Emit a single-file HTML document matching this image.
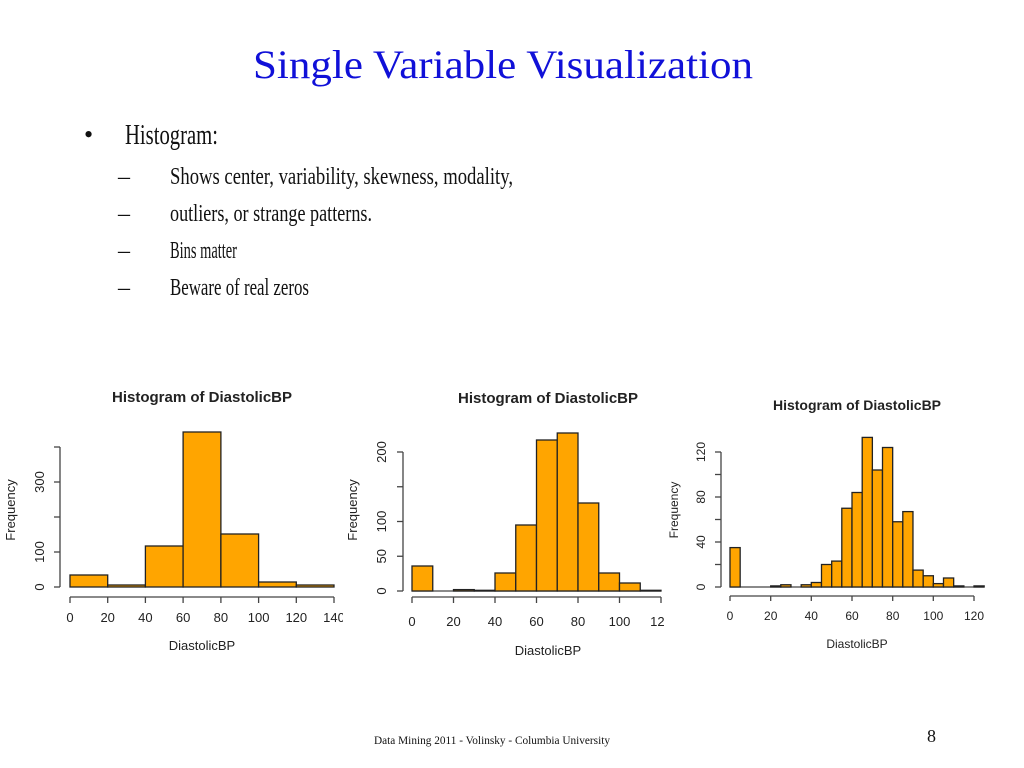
<!DOCTYPE html>
<html><head><meta charset="utf-8"><style>
html,body{margin:0;padding:0;background:#fff}
svg{display:block}
.t{font-family:"Liberation Sans",Arial,sans-serif;fill:#222}
.s{font-family:"Liberation Serif","Times New Roman",serif}
rect.b{fill:#FFA500;stroke:#222;stroke-width:1.3}
line{stroke:#444;stroke-width:1.3}
</style></head><body>
<svg width="1024" height="768" viewBox="0 0 1024 768" xmlns="http://www.w3.org/2000/svg">
<defs>
<clipPath id="c1"><rect x="0" y="380" width="343" height="300"/></clipPath>
<clipPath id="c2"><rect x="345" y="380" width="320" height="300"/></clipPath>
</defs>
<text class="s" x="253" y="78" font-size="40" fill="#1010d8" textLength="500" lengthAdjust="spacingAndGlyphs">Single Variable Visualization</text>
<text class="s" x="84" y="143" font-size="26" fill="#111">•</text>
<text class="s" x="125" y="144" font-size="28" fill="#111" textLength="93" lengthAdjust="spacingAndGlyphs">Histogram:</text>
<g class="s" font-size="24" fill="#111">
<text x="118" y="184">–</text><text x="170" y="184" textLength="343" lengthAdjust="spacingAndGlyphs">Shows center, variability, skewness, modality,</text>
<text x="118" y="221">–</text><text x="170" y="221" textLength="202" lengthAdjust="spacingAndGlyphs">outliers, or strange patterns.</text>
<text x="118" y="258">–</text><text x="170" y="258" textLength="67" lengthAdjust="spacingAndGlyphs">Bins matter</text>
<text x="118" y="295">–</text><text x="170" y="295" textLength="139" lengthAdjust="spacingAndGlyphs">Beware of real zeros</text>
</g>
<text class="s" x="374" y="744" font-size="12" fill="#111" textLength="236" lengthAdjust="spacingAndGlyphs">Data Mining 2011  - Volinsky - Columbia University</text>
<text class="s" x="927" y="742" font-size="18" fill="#111">8</text>

<!-- Chart 1 -->
<g clip-path="url(#c1)">
<text class="t" x="202" y="402" font-size="15" font-weight="bold" text-anchor="middle">Histogram of DiastolicBP</text>
<rect class="b" x="70" y="575" width="37.7" height="12"/>
<rect class="b" x="107.7" y="585" width="37.7" height="2"/>
<rect class="b" x="145.4" y="546" width="37.7" height="41"/>
<rect class="b" x="183.1" y="432" width="37.8" height="155"/>
<rect class="b" x="220.9" y="534" width="37.7" height="53"/>
<rect class="b" x="258.6" y="582" width="37.7" height="5"/>
<rect class="b" x="296.3" y="585" width="37.7" height="2"/>
<line x1="60" y1="447" x2="60" y2="587"/>
<line x1="54" y1="587" x2="60" y2="587"/><line x1="54" y1="552" x2="60" y2="552"/><line x1="54" y1="517" x2="60" y2="517"/><line x1="54" y1="482" x2="60" y2="482"/><line x1="54" y1="447" x2="60" y2="447"/>
<g class="t" font-size="13" text-anchor="middle">
<text transform="translate(44,587) rotate(-90)">0</text>
<text transform="translate(44,552) rotate(-90)">100</text>
<text transform="translate(44,482) rotate(-90)">300</text>
<text transform="translate(15,510) rotate(-90)">Frequency</text>
</g>
<line x1="70" y1="597" x2="334" y2="597"/>
<g>
<line x1="70" y1="597" x2="70" y2="603"/><line x1="107.7" y1="597" x2="107.7" y2="603"/><line x1="145.4" y1="597" x2="145.4" y2="603"/><line x1="183.1" y1="597" x2="183.1" y2="603"/><line x1="220.9" y1="597" x2="220.9" y2="603"/><line x1="258.6" y1="597" x2="258.6" y2="603"/><line x1="296.3" y1="597" x2="296.3" y2="603"/><line x1="334" y1="597" x2="334" y2="603"/>
</g>
<g class="t" font-size="13" text-anchor="middle">
<text x="70" y="622">0</text><text x="107.7" y="622">20</text><text x="145.4" y="622">40</text><text x="183.1" y="622">60</text><text x="220.9" y="622">80</text><text x="258.6" y="622">100</text><text x="296.3" y="622">120</text><text x="334" y="622">140</text>
<text x="202" y="650">DiastolicBP</text>
</g>
</g>

<!-- Chart 2 -->
<g clip-path="url(#c2)">
<text class="t" x="548" y="403" font-size="15" font-weight="bold" text-anchor="middle">Histogram of DiastolicBP</text>
<line x1="412" y1="591" x2="661" y2="591"/>
<rect class="b" x="412" y="566" width="20.75" height="25"/>
<rect class="b" x="453.5" y="589.6" width="20.75" height="1.4"/>
<rect class="b" x="474.25" y="590.3" width="20.75" height="0.7"/>
<rect class="b" x="495" y="573" width="20.75" height="18"/>
<rect class="b" x="515.75" y="525" width="20.75" height="66"/>
<rect class="b" x="536.5" y="440" width="20.75" height="151"/>
<rect class="b" x="557.25" y="433" width="20.75" height="158"/>
<rect class="b" x="578" y="503" width="20.75" height="88"/>
<rect class="b" x="598.75" y="573" width="20.75" height="18"/>
<rect class="b" x="619.5" y="583" width="20.75" height="8"/>
<rect class="b" x="640.25" y="590.3" width="20.75" height="0.7"/>
<line x1="403" y1="452" x2="403" y2="591"/>
<line x1="397" y1="591" x2="403" y2="591"/><line x1="397" y1="556.25" x2="403" y2="556.25"/><line x1="397" y1="521.5" x2="403" y2="521.5"/><line x1="397" y1="486.75" x2="403" y2="486.75"/><line x1="397" y1="452" x2="403" y2="452"/>
<g class="t" font-size="13" text-anchor="middle">
<text transform="translate(386,591) rotate(-90)">0</text>
<text transform="translate(386,556.25) rotate(-90)">50</text>
<text transform="translate(386,521.5) rotate(-90)">100</text>
<text transform="translate(386,452) rotate(-90)">200</text>
<text transform="translate(357,510) rotate(-90)">Frequency</text>
</g>
<line x1="412" y1="597" x2="661" y2="597"/>
<line x1="412" y1="597" x2="412" y2="603"/><line x1="453.5" y1="597" x2="453.5" y2="603"/><line x1="495" y1="597" x2="495" y2="603"/><line x1="536.5" y1="597" x2="536.5" y2="603"/><line x1="578" y1="597" x2="578" y2="603"/><line x1="619.5" y1="597" x2="619.5" y2="603"/><line x1="661" y1="597" x2="661" y2="603"/>
<g class="t" font-size="13" text-anchor="middle">
<text x="412" y="626">0</text><text x="453.5" y="626">20</text><text x="495" y="626">40</text><text x="536.5" y="626">60</text><text x="578" y="626">80</text><text x="619.5" y="626">100</text><text x="661" y="626">120</text>
<text x="548" y="655">DiastolicBP</text>
</g>
</g>

<!-- Chart 3 -->
<text class="t" x="857" y="410" font-size="14" font-weight="bold" text-anchor="middle">Histogram of DiastolicBP</text>
<line x1="730" y1="587" x2="984" y2="587"/>
<rect class="b" x="730" y="547.6" width="10.17" height="39.4"/>
<rect class="b" x="770.7" y="585.9" width="10.17" height="1.1"/>
<rect class="b" x="780.8" y="584.75" width="10.17" height="2.25"/>
<rect class="b" x="801.2" y="584.75" width="10.17" height="2.25"/>
<rect class="b" x="811.3" y="582.5" width="10.17" height="4.5"/>
<rect class="b" x="821.5" y="564.5" width="10.17" height="22.5"/>
<rect class="b" x="831.7" y="561.1" width="10.17" height="25.9"/>
<rect class="b" x="841.8" y="508.25" width="10.17" height="78.75"/>
<rect class="b" x="852" y="492.5" width="10.17" height="94.5"/>
<rect class="b" x="862.2" y="437.4" width="10.17" height="149.6"/>
<rect class="b" x="872.3" y="470" width="10.17" height="117"/>
<rect class="b" x="882.5" y="447.5" width="10.17" height="139.5"/>
<rect class="b" x="892.7" y="521.75" width="10.17" height="65.25"/>
<rect class="b" x="902.8" y="511.6" width="10.17" height="75.4"/>
<rect class="b" x="913" y="570.1" width="10.17" height="16.9"/>
<rect class="b" x="923.2" y="575.75" width="10.17" height="11.25"/>
<rect class="b" x="933.3" y="583.6" width="10.17" height="3.4"/>
<rect class="b" x="943.5" y="578" width="10.17" height="9"/>
<rect class="b" x="953.7" y="585.9" width="10.17" height="1.1"/>
<rect class="b" x="974" y="585.9" width="10.17" height="1.1"/>
<line x1="721" y1="452" x2="721" y2="587"/>
<line x1="715" y1="587" x2="721" y2="587"/><line x1="715" y1="564.5" x2="721" y2="564.5"/><line x1="715" y1="542" x2="721" y2="542"/><line x1="715" y1="519.5" x2="721" y2="519.5"/><line x1="715" y1="497" x2="721" y2="497"/><line x1="715" y1="474.5" x2="721" y2="474.5"/><line x1="715" y1="452" x2="721" y2="452"/>
<g class="t" font-size="12" text-anchor="middle">
<text transform="translate(705,587) rotate(-90)">0</text>
<text transform="translate(705,542) rotate(-90)">40</text>
<text transform="translate(705,497) rotate(-90)">80</text>
<text transform="translate(705,452) rotate(-90)">120</text>
<text transform="translate(678,510) rotate(-90)">Frequency</text>
</g>
<line x1="730" y1="596" x2="974" y2="596"/>
<line x1="730" y1="596" x2="730" y2="601"/><line x1="770.7" y1="596" x2="770.7" y2="601"/><line x1="811.3" y1="596" x2="811.3" y2="601"/><line x1="852" y1="596" x2="852" y2="601"/><line x1="892.7" y1="596" x2="892.7" y2="601"/><line x1="933.3" y1="596" x2="933.3" y2="601"/><line x1="974" y1="596" x2="974" y2="601"/>
<g class="t" font-size="12" text-anchor="middle">
<text x="730" y="620">0</text><text x="770.7" y="620">20</text><text x="811.3" y="620">40</text><text x="852" y="620">60</text><text x="892.7" y="620">80</text><text x="933.3" y="620">100</text><text x="974" y="620">120</text>
<text x="857" y="648">DiastolicBP</text>
</g>
</svg>
</body></html>
